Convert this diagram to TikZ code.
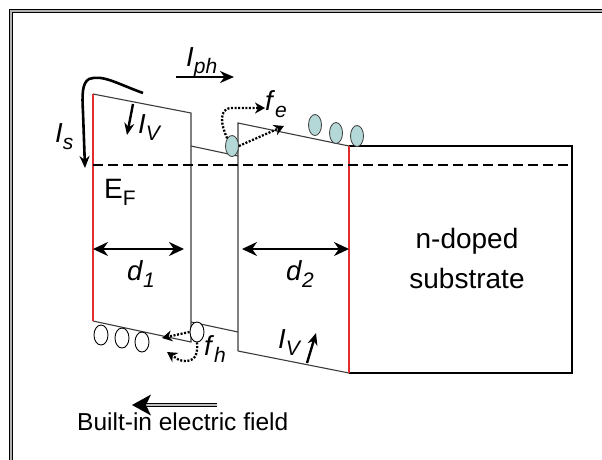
\documentclass[tikz,border=0pt]{standalone}
\usepackage{fontspec}
\setmainfont{Liberation Sans}
\usetikzlibrary{arrows.meta,shapes.geometric}
\definecolor{bandred}{RGB}{225,45,45}
\definecolor{blob}{RGB}{180,215,215}
\definecolor{edgegray}{RGB}{60,60,60}
\newcommand\lab[2]{\textit{#1}\raisebox{-7pt}{\fontsize{21}{21}\selectfont\textit{#2}}}
\begin{document}
\begin{tikzpicture}[x=1pt,y=-1pt,
 band/.style={draw=edgegray,line width=1.1pt},
 redline/.style={draw=bandred,line width=2pt},
 fermi/.style={line width=2.2pt,dash pattern=on 10pt off 5pt},
 elec/.style={ellipse,draw=edgegray,fill=blob,line width=0.8pt,minimum width=13pt,minimum height=21pt,inner sep=0pt},
 hole/.style={ellipse,draw=black,fill=white,line width=0.9pt,minimum width=14pt,minimum height=20pt,inner sep=0pt},
 bigarrow/.style={line width=2.4pt,-{Stealth[length=14pt,width=12pt]}},
 smallarrow/.style={line width=2.4pt,-{Stealth[length=12pt,width=10pt]}},
 dimarrow/.style={line width=2pt,{Stealth[length=15pt,width=14pt]}-{Stealth[length=15pt,width=14pt]}},
 dotarrow/.style={line width=2.3pt,dash pattern=on 2pt off 1.6pt,-{Stealth[length=10pt,width=11pt]}},
 lbl/.style={inner sep=0pt,anchor=base west,font=\fontsize{27.5}{27.5}\selectfont},
]
\useasboundingbox (0,0) rectangle (602,459);
\fill[white] (-5,-5) rectangle (607,464);
\begin{scope}
\clip (0,0) rectangle (602,459);
\draw[line width=1.3pt,double=gray!60,double distance=1.4pt] (11,480) -- (11,11) -- (620,11);
\end{scope}

% band corners
\coordinate (LTL) at (93,94);
\coordinate (LTR) at (191,113);
\coordinate (LBR) at (191,342);
\coordinate (LBL) at (93,321);
\coordinate (MTL) at (191,146);
\coordinate (MTR) at (238,156);
\coordinate (MBL) at (191,322);
\coordinate (MBR) at (238,332);
\coordinate (RTL) at (238,123);
\coordinate (RTR) at (349,146);
\coordinate (RBR) at (349,373);
\coordinate (RBL) at (238,351);
\coordinate (STR) at (572,146);
\coordinate (SBR) at (572,373);
\coordinate (EFL) at (93,165);
\coordinate (EFR) at (572,165);

\draw[band] (LTL) -- (LTR) -- (LBR) -- (LBL);
\draw[band] (MTL) -- (MTR);
\draw[band] (MBL) -- (MBR);
\draw[band] (RBL) -- (RTL) -- (RTR);
\draw[band] (RBL) -- (RBR);
\draw[band,draw=black] (RTR) -- (STR) -- (SBR) -- (RBR);
\draw[redline] (LTL) -- (LBL);
\draw[redline] (RTR) -- (RBR);
\draw[fermi] (EFL) -- (EFR);

% carriers
\node[elec] (e0) at (232,146) {};
\node[elec] (e1) at (315,125) {};
\node[elec] (e2) at (336,133) {};
\node[elec] (e3) at (357,136) {};
\node[hole] (h1) at (101,335) {};
\node[hole] (h2) at (122,338) {};
\node[hole] (h3) at (142,342) {};
\node[hole] (h0) at (197,332) {};

% labels
\node[lbl] (Iph) at (186,66) {\lab{I}{ph}};
\node[lbl] (Is) at (55,142) {\lab{I}{s}};
\node[lbl] (IVt) at (138,133) {\lab{I}{V}};
\node[lbl] (IVb) at (278,348) {\lab{I}{V}};
\node[lbl] (fe) at (265,110) {\lab{f}{e}};
\node[lbl] (fh) at (204,355) {\lab{f}{h}};
\node[lbl,font=\fontsize{28}{28}\selectfont] (EF) at (104,198) {E\raisebox{-7pt}{\fontsize{21}{21}\selectfont F}};
\node[lbl] (d1) at (127,280) {\lab{d}{1}};
\node[lbl] (d2) at (286,280) {\lab{d}{2}};
\node[align=center,font=\fontsize{28}{40}\selectfont,inner sep=0pt] (sub) at (467,258) {n-doped\\substrate};
\node[lbl,font=\fontsize{24.5}{24.5}\selectfont] (bief) at (77,430) {Built-in electric field};

% arrows
\coordinate (Iph1) at (176,77);
\coordinate (Iph2) at (234,77);
\draw[bigarrow] (Iph1) -- (Iph2);
\coordinate (Is1) at (143,93);
\coordinate (Is2) at (85,168);
\draw[smallarrow,line width=2.6pt] (Is1) .. controls (118,84) and (102,74) .. (89,79) .. controls (82,83) and (82,95) .. (83,112) -- (Is2);
\coordinate (IVt1) at (133,104);
\coordinate (IVt2) at (127,135);
\draw[smallarrow] (IVt1) -- (IVt2);
\coordinate (IVb1) at (307,363);
\coordinate (IVb2) at (316,333);
\draw[smallarrow] (IVb1) -- (IVb2);
\coordinate (d1a) at (93,249);
\coordinate (d1b) at (184,249);
\draw[dimarrow] (d1a) -- (d1b);
\coordinate (d2a) at (242,249);
\coordinate (d2b) at (349,249);
\draw[dimarrow] (d2a) -- (d2b);
\coordinate (fe1) at (265,108);
\coordinate (fe2) at (284,126);
\draw[dotarrow] (e0.north west) .. controls (221,125) and (218,108) .. (232,108) -- (fe1);
\draw[dotarrow] (e0.east) -- (fe2);
\coordinate (fh1) at (162,338);
\coordinate (fh2) at (167,352);
\draw[dotarrow] (h0.west) -- (fh1);
\draw[dotarrow] (h0.south) .. controls (199,360) and (190,363) .. (179,360) -- (fh2);

% built-in field arrow
\coordinate (bf1) at (217,405);
\coordinate (bf2) at (146,405);
\draw[line width=1.2pt,double=gray!50,double distance=2pt] (bf1) -- (bf2);
\fill (132,405) -- (151,394.5) -- (146,405) -- (151,415.5) -- cycle;
\end{tikzpicture}
\end{document}
